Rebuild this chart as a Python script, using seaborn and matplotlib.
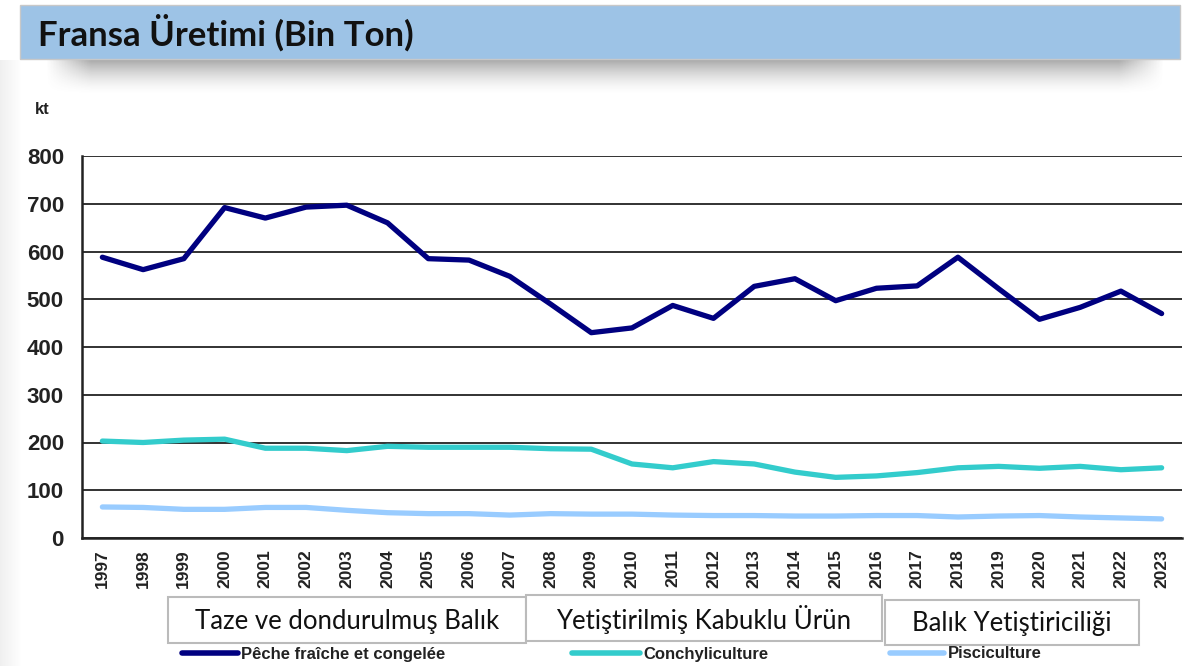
import numpy as np
import pandas as pd
import matplotlib
matplotlib.use("Agg")
import matplotlib.pyplot as plt
import seaborn as sns
from matplotlib.patches import Rectangle
from matplotlib.lines import Line2D

years = list(range(1997, 2024))
peche = [588, 562, 585, 692, 670, 693, 697, 660, 585, 582, 548, 490, 430, 440,
         487, 460, 527, 543, 497, 523, 528, 588, 522, 458, 483, 517, 470]
conchy = [203, 200, 205, 207, 188, 188, 183, 192, 190, 190, 190, 187, 186, 155,
          147, 160, 155, 138, 127, 130, 137, 147, 150, 146, 150, 143, 147]
pisci = [65, 64, 60, 60, 64, 64, 58, 53, 51, 51, 48, 51, 50, 50,
         48, 47, 47, 46, 46, 47, 47, 44, 46, 47, 44, 42, 40]
series_fr = ["Pêche fraîche et congelée", "Conchyliculture", "Pisciculture"]
series_tr = ["Taze ve dondurulmuş Balık", "Yetiştirilmiş Kabuklu Ürün", "Balık Yetiştiriciliği"]
colors = ["#000080", "#33CCCC", "#99CCFF"]
title = "Fransa Üretimi (Bin Ton)"
yticks = [0, 100, 200, 300, 400, 500, 600, 700, 800]

df = pd.DataFrame({
    "year": [str(y) for y in years] * 3,
    "value": peche + conchy + pisci,
    "series": [series_fr[0]] * len(years) + [series_fr[1]] * len(years) + [series_fr[2]] * len(years),
})
df["idx"] = list(range(len(years))) * 3

sns.set_theme(style="white")
plt.rcParams["font.family"] = ["Liberation Sans", "DejaVu Sans"]

W, H = 1184, 666
fig = plt.figure(figsize=(W / 100, H / 100), dpi=100)
fig.patch.set_facecolor("white")

# background decoration axes in pixel coords
bg = fig.add_axes([0, 0, 1, 1])
bg.set_xlim(0, W)
bg.set_ylim(H, 0)
bg.axis("off")
# left faint strip
grad = np.linspace(0.12, 0.0, 40).reshape(1, -1)
bg.imshow(np.ones((1, 40, 3)) * 0.5, alpha=np.clip(grad, 0, 1), extent=(0, 22, H, 60), aspect="auto")
# banner shadow
ny, nx = 40, 400
yy = np.linspace(0, 1, ny)[:, None]
xx = np.linspace(0, 1, nx)[None, :]
a = (1 - yy) ** 1.6 * np.clip(np.minimum(xx, 1 - xx) / 0.04, 0, 1) * 0.55
bg.imshow(np.ones((ny, nx, 3)) * 0.35, alpha=a, extent=(45, 1165, 95, 58), aspect="auto")
# banner
bg.add_patch(Rectangle((20, 5), 1160, 54, facecolor="#9DC3E6", edgecolor="#C8C8C8", lw=1))
bg.text(38, 33, title, fontsize=25, fontweight="bold", family=["Lato", "DejaVu Sans"],
        color="#111111", va="center", ha="left")
bg.text(35, 110, "kt", fontsize=12, fontweight="bold", color="#222222", va="center", ha="left")

# main axes
left, right, top, bottom = 82, 1182, 156, 538
ax = fig.add_axes([left / W, (H - bottom) / H, (right - left) / W, (bottom - top) / H])
ax.set_facecolor("none")
sns.lineplot(data=df, x="idx", y="value", hue="series", palette=colors,
             hue_order=series_fr, linewidth=3.8, legend=False, ax=ax, sort=False)
ax.set_xlim(-0.5, len(years) - 0.5)
ax.set_ylim(0, 800)
ax.set_yticks(yticks)
ax.set_yticklabels([str(t) for t in yticks], fontsize=16, fontweight="bold", color="#222222")
ax.yaxis.grid(True, color="#222222", linewidth=1.3)
ax.set_axisbelow(True)
ax.set_xticks(range(len(years)))
ax.set_xticklabels([str(y) for y in years], rotation=90, fontsize=12.5, fontweight="bold", color="#222222")
ax.set_xticks(np.arange(-0.5, len(years), 1), minor=True)
ax.tick_params(axis="x", which="major", length=0, pad=8)
ax.tick_params(axis="x", which="minor", length=6, width=1.5, color="#222222", direction="out")
ax.tick_params(axis="y", length=7, width=1.5, color="#222222", direction="out", pad=6)
ax.set_xlabel("")
ax.set_ylabel("")
for s in ["top", "right"]:
    ax.spines[s].set_visible(False)
for s in ["left", "bottom"]:
    ax.spines[s].set_color("#222222")
    ax.spines[s].set_linewidth(1.8)

# original legend (French) below
leg = [(182, 238, 241), (572, 640, 643), (890, 944, 948)]
for (x0, x1, xt), c, lab in zip(leg, colors, series_fr):
    bg.add_line(Line2D([x0, x1], [653, 653], color=c, lw=4, solid_capstyle="round"))
    bg.text(xt, 654, lab, fontsize=12, fontweight="bold", color="#222222", va="center", ha="left")

# Turkish overlay boxes
boxes = [(168, 597, 358, 46), (526, 595, 356, 46), (885, 600, 254, 45)]
for (bx, by, bw, bh), lab in zip(boxes, series_tr):
    bg.add_patch(Rectangle((bx, by), bw, bh, facecolor="white", edgecolor="#BBBBBB", lw=1.5, zorder=5))
    bg.text(bx + bw / 2, by + bh / 2 + 1, lab, fontsize=18.5, family=["Lato", "DejaVu Sans"],
            color="#111111", va="center", ha="center", zorder=6)

fig.savefig("out.png", dpi=100)
